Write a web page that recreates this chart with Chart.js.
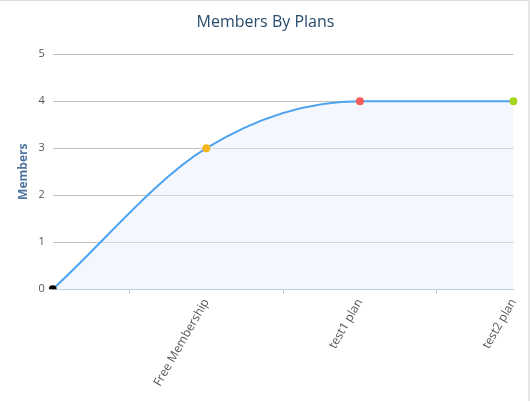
<!DOCTYPE html>
<html><head>
<script src="https://cdn.jsdelivr.net/npm/chart.js@4"></script>
<style>
html,body{margin:0;padding:0;background:#fff;}
#wrap{position:absolute;left:0;top:0;width:528px;height:400px;border-top:1px solid #ddd;border-right:2px solid #e6e6e6;}
</style>
</head><body>
<div id="wrap"><canvas id="c" width="528" height="400"></canvas></div>
<script>
const categories = ["", "Free Membership", "test1 plan", "test2 plan"];
const members = [0, 3, 4, 4];
const pointColors = ["#000000", "#f7b51c", "#f45b5b", "#a3d51a"];
const yTicks = [0, 1, 2, 3, 4, 5];

new Chart(document.getElementById('c'), {
  type: 'line',
  data: {
    labels: categories,
    datasets: [{
      data: members,
      borderColor: '#4da3f0',
      borderWidth: 2,
      backgroundColor: 'rgba(230,240,252,0.45)',
      fill: 'origin',
      cubicInterpolationMode: 'monotone',
      pointRadius: 4,
      pointHoverRadius: 4,
      pointBorderWidth: 0,
      pointBackgroundColor: pointColors
    }]
  },
  options: {
    responsive: false,
    animation: false,
    layout: { padding: { left: 12, right: 9, top: 4, bottom: 10 } },
    plugins: {
      legend: { display: false },
      tooltip: { enabled: false },
      title: { display: true, text: 'Members By Plans', color: '#274b6d',
        font: { family: 'Open Sans', size: 16, weight: 'normal' }, padding: { top: 8, bottom: 22 } }
    },
    scales: {
      x: {
        offset: false,
        grid: { offset: true, drawOnChartArea: false, tickLength: 5, color: '#c0d0e0' },
        border: { color: '#c0d0e0' },
        ticks: { maxRotation: 60, minRotation: 60, color: '#555',
          font: { family: 'Open Sans', size: 12 }, padding: 2 }
      },
      y: {
        min: 0, max: 5,
        afterBuildTicks: s => { s.ticks = yTicks.map(v => ({ value: v })); },
        grid: { color: '#c0c0c0', drawTicks: false },
        border: { display: false },
        ticks: { color: '#555', font: { family: 'Open Sans', size: 11 }, padding: 8 },
        title: { display: true, text: 'Members', color: '#4d759e',
          font: { family: 'Open Sans', size: 12, weight: 'bold' }, padding: { bottom: 0 } }
      }
    }
  }
});
</script>
</body></html>
